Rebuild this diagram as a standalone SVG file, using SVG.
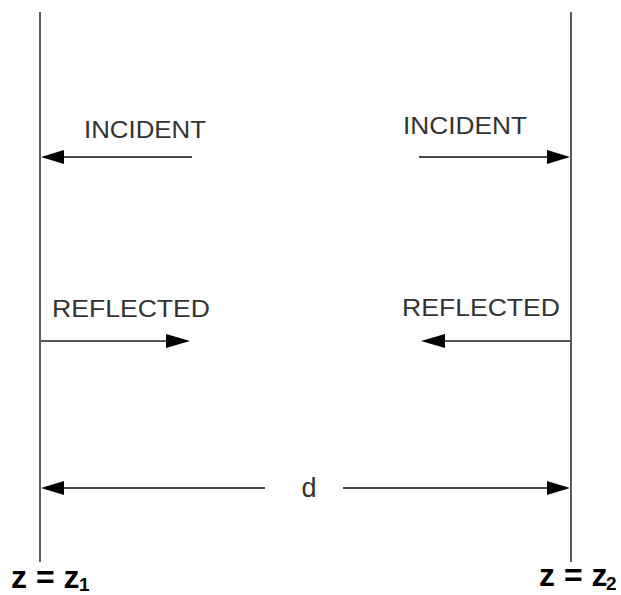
<svg xmlns="http://www.w3.org/2000/svg" width="621" height="595" viewBox="0 0 621 595">
<style>
.lbl{font-family:"Liberation Sans",Arial,sans-serif;font-size:23px;fill:#333}
.d{font-family:"Liberation Sans",Arial,sans-serif;font-size:27px;fill:#333}
.z{font-family:"Liberation Sans",Arial,sans-serif;font-size:32px;font-weight:bold;fill:#000}
.sub{font-size:19px}
.wall{stroke:#333;stroke-width:1.6;fill:none}
.ar{stroke:#111;stroke-width:1.6;fill:none}
.rf{stroke:#555;stroke-width:2;fill:none}
.hd{fill:#000}
</style>
<rect width="621" height="595" fill="#fff"/>
<g id="wall-left"><line class="wall" x1="40" y1="12" x2="40" y2="562"/></g>
<g id="wall-right"><line class="wall" x1="571" y1="12" x2="571" y2="562"/></g>
<g id="connectors">
<line class="ar" x1="192" y1="157" x2="60" y2="157"/>
<polygon class="hd" points="41,157 64,150 64,164"/>
<line class="ar" x1="419" y1="157" x2="550" y2="157"/>
<polygon class="hd" points="570,157 547,150 547,164"/>
<line class="rf" x1="41" y1="341" x2="170" y2="341"/>
<polygon class="hd" points="190,341 166,334 166,348"/>
<line class="rf" x1="570" y1="341" x2="440" y2="341"/>
<polygon class="hd" points="421,341 445,334 445,348"/>
<line class="ar" x1="60" y1="488" x2="265" y2="488"/>
<polygon class="hd" points="41,488 64,481 64,495"/>
<line class="ar" x1="343" y1="488" x2="550" y2="488"/>
<polygon class="hd" points="570,488 547,481 547,495"/>
</g>
<g id="labels">
<text class="lbl" x="84" y="138" textLength="122" lengthAdjust="spacingAndGlyphs">INCIDENT</text>
<text class="lbl" x="403" y="134" textLength="124" lengthAdjust="spacingAndGlyphs">INCIDENT</text>
<text class="lbl" x="52" y="317" textLength="158" lengthAdjust="spacingAndGlyphs">REFLECTED</text>
<text class="lbl" x="402" y="316" textLength="158" lengthAdjust="spacingAndGlyphs">REFLECTED</text>
<text class="d" x="309" y="497" text-anchor="middle">d</text>
<text class="z" x="11" y="588">z = z<tspan class="sub" x="79" y="591">1</tspan></text>
<text class="z" x="539" y="586">z = z<tspan class="sub" x="606" y="590">2</tspan></text>
</g>
</svg>
